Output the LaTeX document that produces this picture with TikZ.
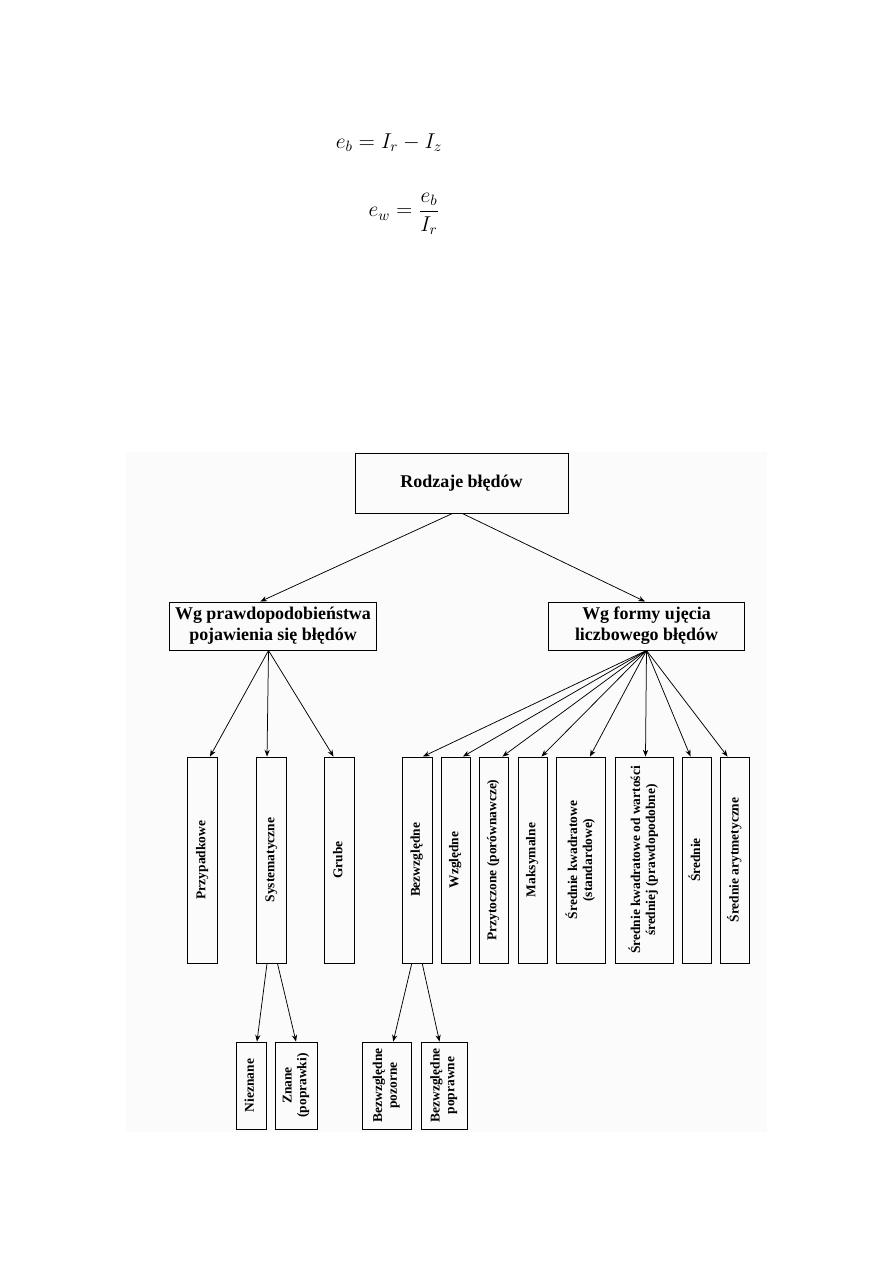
\documentclass[tikz,border=0pt]{standalone}
\usepackage{amsmath}
\usepackage{fontspec}
\setmainfont{Liberation Serif}
\usepackage{graphicx}
\usepackage{tikz}
\usetikzlibrary{arrows.meta}

% vertical label, read from bottom to top
\newcommand{\vtxt}[1]{\rotatebox{90}{\begin{tabular}{@{}c@{}}#1\end{tabular}}}

\begin{document}
\begin{tikzpicture}[x=0.02352cm, y=-0.02352cm,
  box/.style={draw, line width=0.6pt, inner sep=1pt},
  head/.style={box, font=\fontsize{12}{14}\selectfont\bfseries, align=center},
  col/.style={box, minimum height=4.845cm, font=\fontsize{9}{10}\selectfont\bfseries},
  leaf/.style={box, minimum height=2.046cm, font=\fontsize{9}{10}\selectfont\bfseries},
  arr/.style={-{Stealth[length=4.5pt, width=3.5pt]}, line width=0.5pt}
]
  \useasboundingbox (0,0) rectangle (893,1263);

  % Formulas
  \node[font=\fontsize{14.5}{17}\selectfont] (eb) at (389,143) {$e_b = I_r - I_z$};
  \node[font=\fontsize{14.5}{17}\selectfont] (ew) at (404,214) {$e_w = \dfrac{e_b}{I_r}$};

  % faint scan background
  \fill[gray!3] (126,452) rectangle (767,1132);

  % Top level
  \node[head, minimum width=5.01cm, minimum height=1.41cm] (rodz) at (461.5,483) {Rodzaje błędów};

  % Second level
  \node[head, minimum width=4.85cm, minimum height=1.13cm] (wgP) at (273,626) {Wg prawdopodobieństwa\\pojawienia się błędów};
  \node[head, minimum width=4.59cm, minimum height=1.13cm] (wgF) at (646.5,626) {Wg formy ujęcia\\liczbowego błędów};

  % Columns under wgP
  \node[col, minimum width=0.706cm] (przyp) at (202.5,860) {\vtxt{Przypadkowe}};
  \node[col, minimum width=0.706cm] (syst)  at (271.5,860) {\vtxt{Systematyczne}};
  \node[col, minimum width=0.706cm] (grube) at (339.5,860) {\vtxt{Grube}};

  % Columns under wgF
  \node[col, minimum width=0.706cm] (bez)    at (417,860)   {\vtxt{Bezwzględne}};
  \node[col, minimum width=0.682cm] (wzg)    at (455.5,860) {\vtxt{Względne}};
  \node[col, minimum width=0.682cm] (przyt)  at (493.5,860) {\vtxt{Przytoczone (porównawcze)}};
  \node[col, minimum width=0.682cm] (maks)   at (532.5,860) {\vtxt{Maksymalne}};
  \node[col, minimum width=1.152cm] (srkw)   at (581,860)   {\vtxt{Średnie kwadratowe\\(standardowe)}};
  \node[col, minimum width=1.364cm] (srkwod) at (644,860)   {\vtxt{Średnie kwadratowe od wartości\\średniej (prawdopodobne)}};
  \node[col, minimum width=0.682cm] (sred)   at (696.5,860) {\vtxt{Średnie}};
  \node[col, minimum width=0.682cm] (srar)   at (735,860)   {\vtxt{Średnie arytmetyczne}};

  % Bottom level
  \node[leaf, minimum width=0.706cm] (niez)  at (251,1085.5)   {\vtxt{Nieznane}};
  \node[leaf, minimum width=0.988cm] (znane) at (296,1085.5)   {\vtxt{Znane\\(poprawki)}};
  \node[leaf, minimum width=1.152cm] (bpoz)  at (386.5,1085.5) {\vtxt{Bezwzględne\\pozorne}};
  \node[leaf, minimum width=1.082cm] (bpop)  at (444,1085.5)   {\vtxt{Bezwzględne\\poprawne}};

  % Arrows from the top
  \draw[arr] ([xshift=-6pt]rodz.south) -- ([xshift=-8.5pt]wgP.north);
  \draw[arr] ([xshift=0.5pt]rodz.south) -- ([xshift=-1pt]wgF.north);

  % Fan under wgP
  \coordinate (fanP) at ([xshift=-3pt]wgP.south);
  \draw[arr] (fanP) -- ([xshift=5pt]przyp.north);
  \draw[arr] (fanP) -- ([xshift=-3pt]syst.north);
  \draw[arr] (fanP) -- ([xshift=-4pt]grube.north);

  % Fan under wgF
  \coordinate (fanF) at (wgF.south);
  \draw[arr] (fanF) -- ([xshift=4pt]bez.north);
  \draw[arr] (fanF) -- ([xshift=5pt]wzg.north);
  \draw[arr] (fanF) -- ([xshift=6pt]przyt.north);
  \draw[arr] (fanF) -- ([xshift=6pt]maks.north);
  \draw[arr] (fanF) -- ([xshift=6pt]srkw.north);
  \draw[arr] (fanF) -- ([xshift=1pt]srkwod.north);
  \draw[arr] (fanF) -- ([xshift=-4pt]sred.north);
  \draw[arr] (fanF) -- ([xshift=-5pt]srar.north);

  % Sub-kinds
  \draw[arr] ([xshift=-3pt]syst.south) -- ([xshift=4pt]niez.north);
  \draw[arr] ([xshift=4pt]syst.south) -- (znane.north);
  \draw[arr] ([xshift=-3.5pt]bez.south) -- ([xshift=4.5pt]bpoz.north);
  \draw[arr] ([xshift=3.5pt]bez.south) -- ([xshift=-3pt]bpop.north);

\end{tikzpicture}
\end{document}
